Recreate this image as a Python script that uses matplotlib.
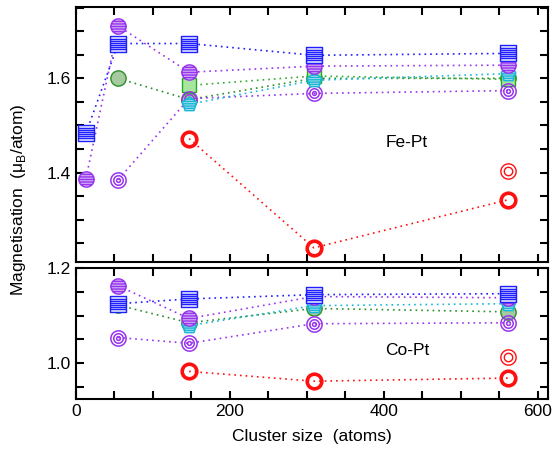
import numpy as np
import matplotlib
matplotlib.use('Agg')
import matplotlib.pyplot as plt
from matplotlib.path import Path
from matplotlib.ticker import MultipleLocator

plt.rcParams['font.family'] = ['Liberation Sans', 'DejaVu Sans']

# cluster sizes (atoms)
x_all = [13, 55, 147, 309, 561]
x_55 = [55, 147, 309, 561]
x_147 = [147, 309, 561]
x_561 = [561]

# Fe-Pt
fe_blue = [1.483, 1.674, 1.674, 1.649, 1.653]
fe_purple = [1.387, 1.711, 1.613, 1.626, 1.628]
fe_green_c = [1.600, 1.555, 1.600, 1.600]
fe_green_sq = [1.585, 1.605, 1.598]
fe_cyan = [1.545, 1.596, 1.610]
fe_target = [1.385, 1.557, 1.568, 1.574]
fe_red = [1.472, 1.240, 1.342]
fe_red2 = [1.404]

# Co-Pt
co_blue = [1.125, 1.135, 1.144, 1.146]
co_purple = [1.1625, 1.094, 1.140, 1.1375]
co_green_c = [1.122, 1.085, 1.115, 1.108]
co_cyan = [1.079, 1.121, 1.125]
co_target = [1.054, 1.042, 1.083, 1.085]
co_red = [0.983, 0.9625, 0.969]
co_red2 = [1.0125]


def poly(n, r=1.0, rot=0.0):
    t = np.linspace(0, 2 * np.pi, n + 1) + rot
    return np.column_stack([r * np.sin(t), r * np.cos(t)])


def hatched(verts, nlines):
    allv = [verts]
    codes = [[Path.MOVETO] + [Path.LINETO] * (len(verts) - 2) + [Path.CLOSEPOLY]]
    ys = verts[:, 1]
    for y in np.linspace(ys.min(), ys.max(), nlines + 2)[1:-1]:
        xs = []
        for p, q in zip(verts[:-1], verts[1:]):
            if (p[1] - y) * (q[1] - y) <= 0 and p[1] != q[1]:
                xs.append(p[0] + (y - p[1]) * (q[0] - p[0]) / (q[1] - p[1]))
        allv.append(np.array([[min(xs), y], [max(xs), y]]))
        codes.append([Path.MOVETO, Path.LINETO])
    return Path(np.vstack(allv), np.concatenate(codes))


def rings(radii):
    allv, codes = [], []
    for r in radii:
        v = poly(48, r)
        allv.append(v)
        codes.append([Path.MOVETO] + [Path.LINETO] * (len(v) - 2) + [Path.CLOSEPOLY])
    return Path(np.vstack(allv), np.concatenate(codes))


sq = np.array([[-1, -1], [1, -1], [1, 1], [-1, 1], [-1, -1]], float)
m_square = hatched(sq, 6)
m_circle = hatched(poly(48), 5)
m_pent = hatched(poly(5), 5)
m_target = rings([1.0, 0.62, 0.25])
m_double = rings([1.0, 0.55])

c_blue = '#1f1fff'
c_purple = '#9933ee'
c_green = '#2a8f2a'
c_cyan = '#1ab8d8'
c_red = '#ff1010'
dots = (0, (1, 2.4))


def draw(ax, green_c, green_sq, target, cyan, purple, blue, red, red2):
    ax.plot(x_55, green_c, ls=dots, lw=1.2, color=c_green, marker='o', ms=11,
            mfc='#a6c9a0', mec=c_green, mew=1)
    if green_sq is not None:
        ax.plot(x_147, green_sq, ls=dots, lw=1.2, color='#33aa33', marker='s', ms=10,
                mfc='#a8e6a0', mec='#22aa22', mew=1)
    ax.plot(x_55, target, ls=dots, lw=1.2, color=c_purple, marker=m_target, ms=11,
            mfc='none', mec=c_purple, mew=1.1)
    ax.plot(x_147, cyan, ls=dots, lw=1.2, color=c_cyan, marker=m_pent, ms=11,
            mfc='#a8dcea', mec=c_cyan, mew=1)
    xp = x_all if len(purple) == 5 else x_55
    ax.plot(xp, purple, ls=dots, lw=1.2, color=c_purple, marker=m_circle, ms=11,
            mfc='#cdb0f2', mec=c_purple, mew=1)
    ax.plot(xp, blue, ls=dots, lw=1.2, color=c_blue, marker=m_square, ms=11,
            mfc='#e8eaff', mec=c_blue, mew=1)
    ax.plot(x_147, red, ls=dots, lw=1.2, color=c_red, marker='o', ms=10.5,
            mfc='none', mec=c_red, mew=2.6)
    ax.plot(x_561, red2, ls='none', marker=m_double, ms=11,
            mfc='none', mec=c_red, mew=1)


fig = plt.figure(figsize=(5.58, 4.54), dpi=100)
ax1 = fig.add_axes([0.136, 0.423, 0.846, 0.562])
ax2 = fig.add_axes([0.136, 0.121, 0.846, 0.289])

draw(ax1, fe_green_c, fe_green_sq, fe_target, fe_cyan, fe_purple, fe_blue, fe_red, fe_red2)
draw(ax2, co_green_c, None, co_target, co_cyan, co_purple, co_blue, co_red, co_red2)

ax1.set_ylim(1.21, 1.752)
ax2.set_ylim(0.925, 1.2002)
ax1.yaxis.set_major_locator(MultipleLocator(0.2))
ax2.yaxis.set_major_locator(MultipleLocator(0.2))
for ax in (ax1, ax2):
    ax.set_xlim(0, 613)
    ax.xaxis.set_major_locator(MultipleLocator(200))
    ax.xaxis.set_minor_locator(MultipleLocator(50))
    ax.yaxis.set_minor_locator(MultipleLocator(0.05))
    ax.tick_params(which='both', direction='in', top=True, right=True,
                   length=6, width=1.5, labelsize=12.5)
    for s in ax.spines.values():
        s.set_linewidth(1.5)
    ax.yaxis.set_major_formatter(plt.FuncFormatter(lambda v, p: f'{v:.1f}'))
ax1.tick_params(labelbottom=False)

ax1.text(430, 1.464, 'Fe-Pt', fontsize=12.5, ha='center', va='center')
ax2.text(430, 1.027, 'Co-Pt', fontsize=12.5, ha='center', va='center')

ax2.set_xlabel('Cluster size  (atoms)', fontsize=12.5, labelpad=7)
fig.text(0.033, 0.56, 'Magnetisation  (μ$_\\mathregular{B}$/atom)', rotation=90,
         fontsize=12.5, ha='center', va='center')

fig.savefig('out.png', dpi=100)
